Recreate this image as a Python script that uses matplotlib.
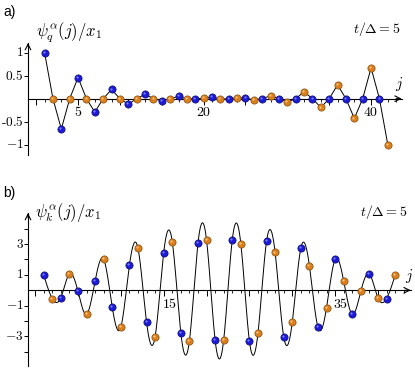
import numpy as np
import matplotlib
matplotlib.use('Agg')
import matplotlib.pyplot as plt
from matplotlib.ticker import MultipleLocator, FixedLocator
from matplotlib.transforms import offset_copy

plt.rcParams['mathtext.fontset'] = 'cm'

# site index j = 1..42 (odd sites blue, even sites orange)
j = np.arange(1, 43)

# panel a: psi_q^alpha(j)/x_1
psi_q = [1.0, 0.0, -0.66, 0.0, 0.46, 0.0, -0.29, 0.0, 0.20, 0.0,
         -0.12, 0.0, 0.095, 0.0, -0.045, 0.0, 0.05, -0.005, 0.0, 0.01,
         0.035, -0.01, 0.0, 0.02, 0.015, -0.03, 0.0, 0.065, 0.0, -0.07,
         0.0, 0.15, 0.0, -0.19, 0.0, 0.30, 0.0, -0.43, 0.0, 0.67,
         0.0, -1.0]

# panel b: psi_k^alpha(j)/x_1
psi_k = [1.0, -0.54, -0.48, 1.06, -0.07, -1.56, 0.60, 2.01, -1.10, -2.40,
         1.62, 2.73, -2.06, -3.01, 2.44, 3.16, -2.77, -3.29, 3.05, 3.27,
         -3.23, -3.23, 3.27, 3.03, -3.29, -2.79, 3.18, 2.46, -3.01, -2.08,
         2.73, 1.60, -2.40, -1.13, 2.01, 0.60, -1.56, -0.07, 1.06, -0.50,
         -0.54, 0.97]

xlabels_a = [5, 20, 40]
xlabels_b = [15, 35]
ylabels_a = [-1, -0.5, 0.5, 1]
yticks_b = [-4, -3, -2, -1, 1, 2, 3, 4]
ylabels_b = [-3, -1, 1, 3]

blue, blue_edge, blue_hi = '#1c1cd4', '#0a0a70', '#7a7aff'
orange, orange_edge, orange_hi = '#d8801e', '#8a4a08', '#ffc27a'


def spline(x, y, n=2000):
    # natural cubic spline through the samples, only used to draw the curve
    x = np.asarray(x, float)
    y = np.asarray(y, float)
    m = len(x)
    h = np.diff(x)
    A = np.zeros((m, m))
    r = np.zeros(m)
    A[0, 0] = A[-1, -1] = 1
    for i in range(1, m - 1):
        A[i, i - 1] = h[i - 1]
        A[i, i] = 2 * (h[i - 1] + h[i])
        A[i, i + 1] = h[i]
        r[i] = 6 * ((y[i + 1] - y[i]) / h[i] - (y[i] - y[i - 1]) / h[i - 1])
    M = np.linalg.solve(A, r)
    xs = np.linspace(x[0], x[-1], n)
    k = np.clip(np.searchsorted(x, xs) - 1, 0, m - 2)
    t = xs - x[k]
    hk = h[k]
    a = (M[k + 1] - M[k]) / (6 * hk)
    b = M[k] / 2
    c = (y[k + 1] - y[k]) / hk - hk * (2 * M[k] + M[k + 1]) / 6
    return xs, y[k] + c * t + b * t**2 + a * t**3


def balls(ax, x, y):
    x = np.asarray(x)
    y = np.asarray(y)
    hi = offset_copy(ax.transData, fig=ax.figure, x=-0.9, y=0.9, units='dots')
    for sel, col, ec, hc in [(x % 2 == 1, blue, blue_edge, blue_hi),
                             (x % 2 == 0, orange, orange_edge, orange_hi)]:
        ax.plot(x[sel], y[sel], 'o', ms=5.2, mfc=col, mec=ec, mew=0.5,
                zorder=5, clip_on=False)
        ax.plot(x[sel], y[sel], 'o', ms=1.6, mfc=hc, mec='none',
                zorder=6, clip_on=False, transform=hi)


def style_axes(ax, xlim, ylim, xlab, ylab_locs, ylab_vals, ytick_locs, xlab_left):
    ax.set_xlim(*xlim)
    ax.set_ylim(*ylim)
    for s in ['top', 'right']:
        ax.spines[s].set_visible(False)
    ax.spines['bottom'].set_position(('data', 0))
    ax.spines['left'].set_position(('data', xlim[0]))
    for s in ['bottom', 'left']:
        ax.spines[s].set_linewidth(0.8)
    ax.patch.set_alpha(0)
    ax.xaxis.set_major_locator(MultipleLocator(5))
    ax.xaxis.set_minor_locator(MultipleLocator(1))
    ax.set_xticklabels([])
    ax.tick_params(axis='x', which='major', length=4, width=0.7, labelbottom=False)
    ax.tick_params(axis='x', which='minor', length=2, width=0.6)
    ax.yaxis.set_major_locator(FixedLocator(ytick_locs))
    ax.tick_params(axis='y', which='major', length=3, width=0.7, labelleft=False)
    for v in xlab:
        if xlab_left:
            ax.annotate('$%d$' % v, (v, 0), xytext=(-1.5, -5), textcoords='offset points',
                        ha='left', va='top', fontsize=10)
        else:
            ax.annotate('$%d$' % v, (v, 0), xytext=(0, -4.5), textcoords='offset points',
                        ha='center', va='top', fontsize=10)
    for v, s in zip(ylab_locs, ylab_vals):
        ax.annotate(s, (xlim[0], v), xytext=(-3.2, 0), textcoords='offset points',
                    ha='right', va='center', fontsize=9.6, annotation_clip=False)
    # arrow heads
    ax.annotate('', xy=(1, 0), xytext=(0.985, 0), xycoords=ax.get_yaxis_transform(),
                arrowprops=dict(arrowstyle='->', lw=0.8, color='k',
                                shrinkA=0, shrinkB=0), annotation_clip=False)
    ax.annotate('', xy=(xlim[0], 1), xytext=(xlim[0], 0.97),
                xycoords=ax.get_xaxis_transform(),
                arrowprops=dict(arrowstyle='->', lw=0.8, color='k',
                                shrinkA=0, shrinkB=0), annotation_clip=False)


fig = plt.figure(figsize=(4.15, 3.69), dpi=100)

# panel a
ax1 = fig.add_axes([28 / 415, 1 - 155 / 369, (401.7 - 28) / 415, (155 - 43) / 369])
ax1.plot(j, psi_q, color='k', lw=0.7, zorder=3)
balls(ax1, j, psi_q)
style_axes(ax1, (-0.98, 43.66), (-1.224, 1.21), xlabels_a,
           ylabels_a, ['$-1$', r'$\text{-}0.5$', '$0.5$', '$1$'], ylabels_a, False)

# panel b
ax2 = fig.add_axes([28 / 415, 1 - 366 / 369, (410.7 - 28) / 415, (366 - 213) / 369])
xs, ys = spline(j, psi_k)
ax2.plot(xs, ys, color='k', lw=0.7, zorder=3)
balls(ax2, j, psi_k)
style_axes(ax2, (-0.83, 43.82), (-4.92, 5.02), xlabels_b,
           ylabels_b, ['$-3$', '$-1$', '$1$', '$3$'], yticks_b, True)

# texts
fig.text(3 / 415, 1 - 12 / 369, 'a)', fontsize=10, family='Liberation Sans',
         ha='left', va='center')
fig.text(3 / 415, 1 - 193 / 369, 'b)', fontsize=10, family='Liberation Sans',
         ha='left', va='center')
fig.text(36 / 415, 1 - 33 / 369, r'$\psi_q^\alpha(j)/x_1$', fontsize=12,
         ha='left', va='center')
fig.text(35 / 415, 1 - 212 / 369, r'$\psi_k^\alpha(j)/x_1$', fontsize=12,
         ha='left', va='center')
fig.text(400 / 415, 1 - 29 / 369, r'$t/\Delta = 5$', fontsize=10,
         ha='right', va='center')
fig.text(407.5 / 415, 1 - 212 / 369, r'$t/\Delta = 5$', fontsize=10,
         ha='right', va='center')
fig.text(399 / 415, 1 - 84 / 369, r'$j$', fontsize=11, ha='center', va='center')
fig.text(409 / 415, 1 - 276 / 369, r'$j$', fontsize=11, ha='center', va='center')

fig.savefig('out.png', dpi=100)
